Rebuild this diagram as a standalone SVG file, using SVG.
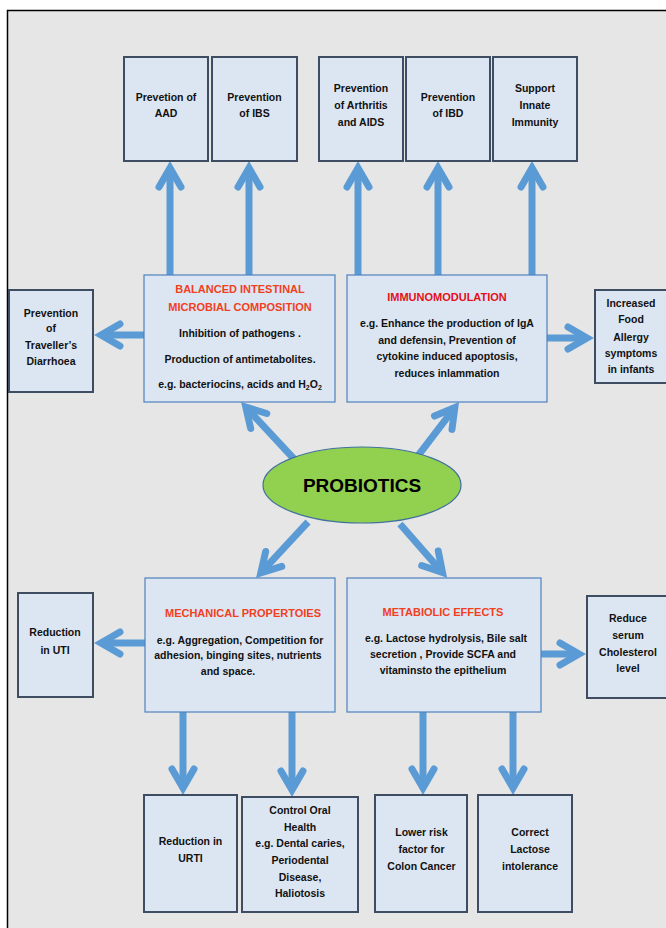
<svg xmlns="http://www.w3.org/2000/svg" width="666" height="928" viewBox="0 0 666 928">
<defs>
<marker id="ah" markerUnits="userSpaceOnUse" orient="auto" markerWidth="40" markerHeight="40" refX="0" refY="0" viewBox="-30 -20 40 40" overflow="visible">
<path d="M-19,-11 L0,0 L-19,11" fill="none" stroke="#5b9bd5" stroke-width="7" stroke-linecap="round" stroke-linejoin="miter" stroke-miterlimit="10"/>
</marker>
<style>
.bx{fill:#dce6f2;stroke:#3f4d63;stroke-width:2}
.mb{fill:#dce6f2;stroke:#4f81bd;stroke-width:1.2}
.t{font-family:"Liberation Sans",Arial,sans-serif;font-weight:bold;font-size:10.5px;fill:#111;text-anchor:middle}
.h{font-family:"Liberation Sans",Arial,sans-serif;font-weight:bold;font-size:11px;fill:#f0401e;text-anchor:middle}
.r{fill:#e4101a}
.ar{fill:none;stroke:#5b9bd5;stroke-width:7;marker-end:url(#ah)}
</style>
</defs>
<rect x="0" y="0" width="666" height="928" fill="#ffffff"/>
<rect x="7" y="10" width="670" height="930" fill="#e6e6e6"/>
<path d="M7.5,928 V10.5 H666" fill="none" stroke="#000" stroke-width="1.5"/>

<g id="connectors">
<path class="ar" d="M170,275 V168"/>
<path class="ar" d="M249,275 V168"/>
<path class="ar" d="M358,275 V168"/>
<path class="ar" d="M438,275 V168"/>
<path class="ar" d="M532,275 V168"/>
<path class="ar" d="M144,335 H101"/>
<path class="ar" d="M547,338 H587"/>
<path class="ar" d="M145,643 H101"/>
<path class="ar" d="M541,654 H579"/>
<path class="ar" d="M295,460 L245.8,407.1"/>
<path class="ar" d="M417,457 L454.8,407.6"/>
<path class="ar" d="M308,522 L260.8,572.9"/>
<path class="ar" d="M400,524 L442.5,572.6"/>
<path class="ar" d="M183,712 V788"/>
<path class="ar" d="M292,712 V790"/>
<path class="ar" d="M423,712 V788"/>
<path class="ar" d="M513,712 V788"/>
</g>

<g id="aad"><rect class="bx" x="124" y="57" width="84" height="104"/>
<text class="t" x="166" y="100.5">Prevetion of</text><text class="t" x="166" y="117">AAD</text></g>
<g id="ibs"><rect class="bx" x="212" y="57" width="85" height="104"/>
<text class="t" x="254.5" y="100.5">Prevention</text><text class="t" x="254.5" y="117">of IBS</text></g>
<g id="arthritis"><rect class="bx" x="319" y="57" width="84" height="104"/>
<text class="t" x="361" y="92">Prevention</text><text class="t" x="361" y="108.5">of Arthritis</text><text class="t" x="361" y="125.5">and AIDS</text></g>
<g id="ibd"><rect class="bx" x="406" y="57" width="84" height="104"/>
<text class="t" x="448" y="100.5">Prevention</text><text class="t" x="448" y="117">of IBD</text></g>
<g id="innate"><rect class="bx" x="493" y="57" width="84" height="104"/>
<text class="t" x="535" y="92">Support</text><text class="t" x="535" y="108.5">Innate</text><text class="t" x="535" y="125.5">Immunity</text></g>

<g id="traveller"><rect class="bx" x="9" y="290" width="84" height="102"/>
<text class="t" x="51" y="316.5">Prevention</text><text class="t" x="51" y="332">of</text><text class="t" x="51" y="349">Traveller’s</text><text class="t" x="51" y="364.5">Diarrhoea</text></g>

<g id="balanced"><rect class="mb" x="144" y="275" width="191" height="127"/>
<text class="h" x="240" y="293">BALANCED INTESTINAL</text>
<text class="h" x="240" y="310.5">MICROBIAL COMPOSITION</text>
<text class="t" x="240" y="337">Inhibition of pathogens .</text>
<text class="t" x="240" y="363">Production of antimetabolites.</text>
<text class="t" x="240" y="388">e.g. bacteriocins, acids and H<tspan font-size="7" dy="2">2</tspan><tspan dy="-2">O</tspan><tspan font-size="7" dy="2">2</tspan></text></g>

<g id="immuno"><rect class="mb" x="347" y="275" width="200" height="127"/>
<text class="h r" x="447" y="300.5">IMMUNOMODULATION</text>
<text class="t" x="447" y="327">e.g. Enhance the production of IgA</text>
<text class="t" x="447" y="344">and defensin, Prevention of</text>
<text class="t" x="447" y="360">cytokine induced apoptosis,</text>
<text class="t" x="447" y="376.5">reduces inlammation</text></g>

<g id="allergy"><rect class="bx" x="595" y="290" width="80" height="93"/>
<text class="t" x="631" y="307">Increased</text><text class="t" x="631" y="323">Food</text><text class="t" x="631" y="340.5">Allergy</text><text class="t" x="631" y="356.5">symptoms</text><text class="t" x="631" y="373">in infants</text></g>

<g id="probiotics"><ellipse cx="362" cy="485" rx="99" ry="38" fill="#92d050" stroke="#41719c" stroke-width="1.2"/>
<text x="362" y="491.5" text-anchor="middle" font-family="'Liberation Sans',Arial,sans-serif" font-weight="bold" font-size="19" fill="#000">PROBIOTICS</text></g>

<g id="uti"><rect class="bx" x="18" y="593" width="75" height="104"/>
<text class="t" x="55" y="635.5">Reduction</text><text class="t" x="55" y="654">in UTI</text></g>

<g id="mechanical"><rect class="mb" x="145" y="578" width="190" height="134"/>
<text class="h" x="243" y="616.5">MECHANICAL PROPERTOIES</text>
<text class="t" x="240" y="644">e.g. Aggregation, Competition for</text>
<text class="t" x="238" y="659">adhesion, binging sites, nutrients</text>
<text class="t" x="228" y="674.5">and space.</text></g>

<g id="metabolic"><rect class="mb" x="347" y="578" width="194" height="134"/>
<text class="h" x="443" y="615.5">METABIOLIC EFFECTS</text>
<text class="t" x="446" y="642">e.g. Lactose hydrolysis, Bile salt</text>
<text class="t" x="443" y="658">secretion , Provide SCFA and</text>
<text class="t" x="443" y="674">vitaminsto the epithelium</text></g>

<g id="cholesterol"><rect class="bx" x="587" y="596" width="85" height="102"/>
<text class="t" x="628" y="621.5">Reduce</text><text class="t" x="628" y="639">serum</text><text class="t" x="628" y="655.5">Cholesterol</text><text class="t" x="628" y="671.5">level</text></g>

<g id="urti"><rect class="bx" x="144" y="795" width="93" height="117"/>
<text class="t" x="190.5" y="845">Reduction in</text><text class="t" x="190.5" y="861.5">URTI</text></g>

<g id="oral"><rect class="bx" x="242" y="797" width="116" height="115"/>
<text class="t" x="300" y="814">Control Oral</text><text class="t" x="300" y="830.5">Health</text><text class="t" x="300" y="847">e.g. Dental caries,</text><text class="t" x="300" y="864">Periodental</text><text class="t" x="300" y="880.5">Disease,</text><text class="t" x="300" y="896.5">Haliotosis</text></g>

<g id="colon"><rect class="bx" x="375" y="795" width="92" height="117"/>
<text class="t" x="421.5" y="836">Lower risk</text><text class="t" x="421.5" y="853">factor for</text><text class="t" x="421.5" y="870">Colon Cancer</text></g>

<g id="lactose"><rect class="bx" x="478" y="795" width="94" height="117"/>
<text class="t" x="530" y="836">Correct</text><text class="t" x="530" y="853">Lactose</text><text class="t" x="530" y="870">intolerance</text></g>
</svg>
